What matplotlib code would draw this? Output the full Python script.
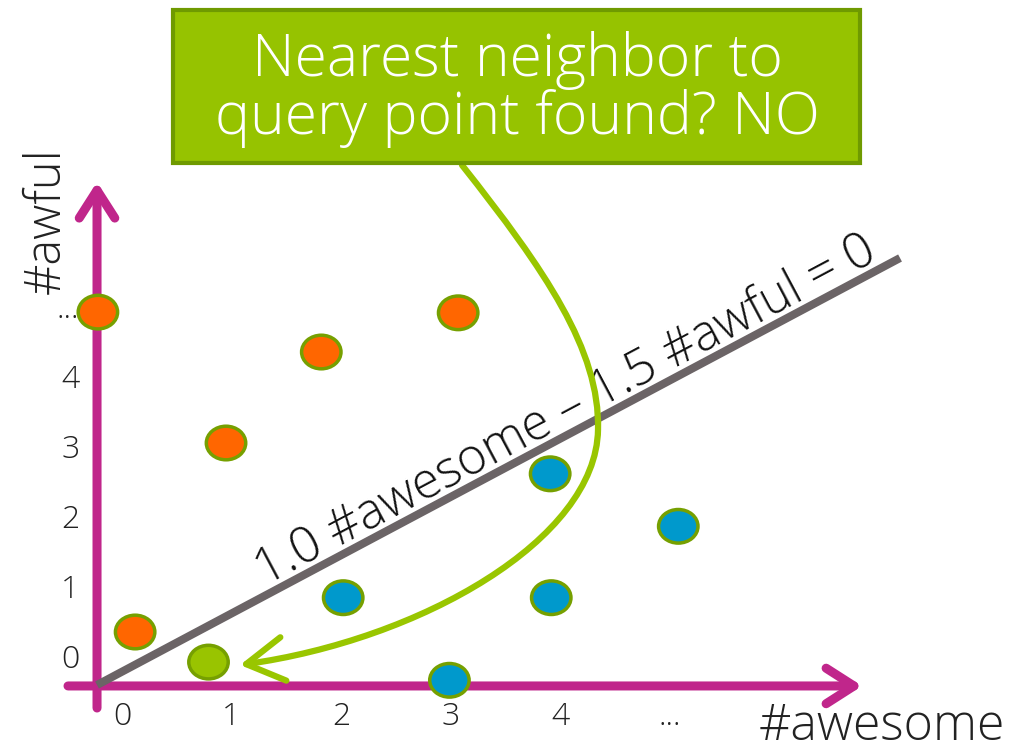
import matplotlib
matplotlib.use("Agg")
import matplotlib.pyplot as plt
from matplotlib.patches import Ellipse, FancyArrowPatch, Rectangle
from matplotlib.path import Path

plt.rcParams['font.family'] = ['Open Sans', 'DejaVu Sans']

# ---- data ----
x_ticks = [0, 1, 2, 3, 4, 5]
x_tick_labels = ['0', '1', '2', '3', '4', '...']
y_ticks = [0, 1, 2, 3, 4, 5]
y_tick_labels = ['0', '1', '2', '3', '4', '...']

neg_x = [0.12, 0.95, 1.82, 3.07, -0.22]      # orange (#awful-heavy)
neg_y = [0.40, 3.10, 4.40, 4.96, 4.97]
pos_x = [2.02, 3.91, 5.08, 3.92, 2.99]       # blue
pos_y = [0.89, 2.66, 1.91, 0.89, -0.29]
query_x = [0.79]                             # green query point
query_y = [-0.03]

boundary_x = [-0.228, 7.105]
boundary_y = [-0.357, 5.743]

title_lines = ["Nearest neighbor to", "query point found? NO"]
equation = "1.0 #awesome \u2013 1.5 #awful = 0"

# ---- figure ----
fig = plt.figure(figsize=(10.16, 7.54), dpi=100)
ax = fig.add_axes([0, 0, 1, 1])
ax.set_xlim(-1.114, 8.164)
ax.set_ylim(-1.343, 9.429)
ax.axis('off')

magenta = '#c0268b'
axis_lw = 6.5
light = 'light'

# axes arrows
ax.add_patch(FancyArrowPatch((-0.228, -0.686), (-0.228, 6.83),
                             arrowstyle='->,head_length=0.5,head_width=0.32',
                             mutation_scale=40, color=magenta, lw=axis_lw,
                             shrinkA=0, shrinkB=0, capstyle='round', zorder=2))
ax.add_patch(FancyArrowPatch((-0.493, -0.371), (6.76, -0.371),
                             arrowstyle='->,head_length=0.5,head_width=0.32',
                             mutation_scale=40, color=magenta, lw=axis_lw,
                             shrinkA=0, shrinkB=0, capstyle='round', zorder=2))

# tick labels
tick_color = '#222222'
for xv, lab in zip(x_ticks, x_tick_labels):
    ax.text(xv, -0.82, lab, ha='center', va='center', fontsize=23,
            color=tick_color, fontweight=light)
for yv, lab in zip(y_ticks, y_tick_labels):
    ax.text(-0.39, yv, lab, ha='right', va='center', fontsize=23,
            color=tick_color, fontweight=light)

ax.text(-0.685, 6.28, '#awful', rotation=90, ha='center', va='center',
        fontsize=35, color='#222222', fontweight=light)
ax.text(5.81, -1.32, '#awesome', ha='left', va='bottom', fontsize=36,
        color='#222222', fontweight=light)

# decision boundary
ax.plot(boundary_x, boundary_y, color='#6b6466', lw=5.8, solid_capstyle='butt', zorder=3)
ax.text(4.05, 3.55, equation, rotation=28, rotation_mode='anchor',
        ha='center', va='center', fontsize=36, color='#111111', zorder=4,
        fontweight=light)

# points
def dots(xs, ys, face):
    for xv, yv in zip(xs, ys):
        ax.add_patch(Ellipse((xv, yv), width=0.36, height=0.48, facecolor=face,
                             edgecolor='#76a000', lw=2.5, zorder=5))

dots(neg_x, neg_y, '#ff6600')
dots(pos_x, pos_y, '#0099cc')
dots(query_x, query_y, '#99c400')

# curved green arrow from the box to the query point
verts = [(3.105, 7.07), (3.863, 5.571), (4.365, 4.429), (4.347, 3.29),
         (4.329, 1.714), (2.721, 0.286), (1.078, -0.071)]
codes = [Path.MOVETO, Path.CURVE4, Path.CURVE4, Path.CURVE4,
         Path.CURVE4, Path.CURVE4, Path.CURVE4]
ax.add_patch(FancyArrowPatch(path=Path(verts, codes),
                             arrowstyle='->,head_length=0.6,head_width=0.35',
                             mutation_scale=45, color='#99c600', lw=4.5,
                             capstyle='round', zorder=6))

# title box
fig.patches.append(Rectangle((173 / 1016, 1 - 163 / 754), 687 / 1016, 153 / 754,
                             transform=fig.transFigure, facecolor='#96c300',
                             edgecolor='#6f9a00', lw=3, zorder=10))
fig.text(517 / 1016, 1 - 60 / 754, title_lines[0], ha='center', va='center',
         fontsize=42.5, color='white', zorder=11, fontweight=light)
fig.text(517 / 1016, 1 - 119 / 754, title_lines[1], ha='center', va='center',
         fontsize=42.5, color='white', zorder=11, fontweight=light)

fig.savefig('out.png', dpi=100)
